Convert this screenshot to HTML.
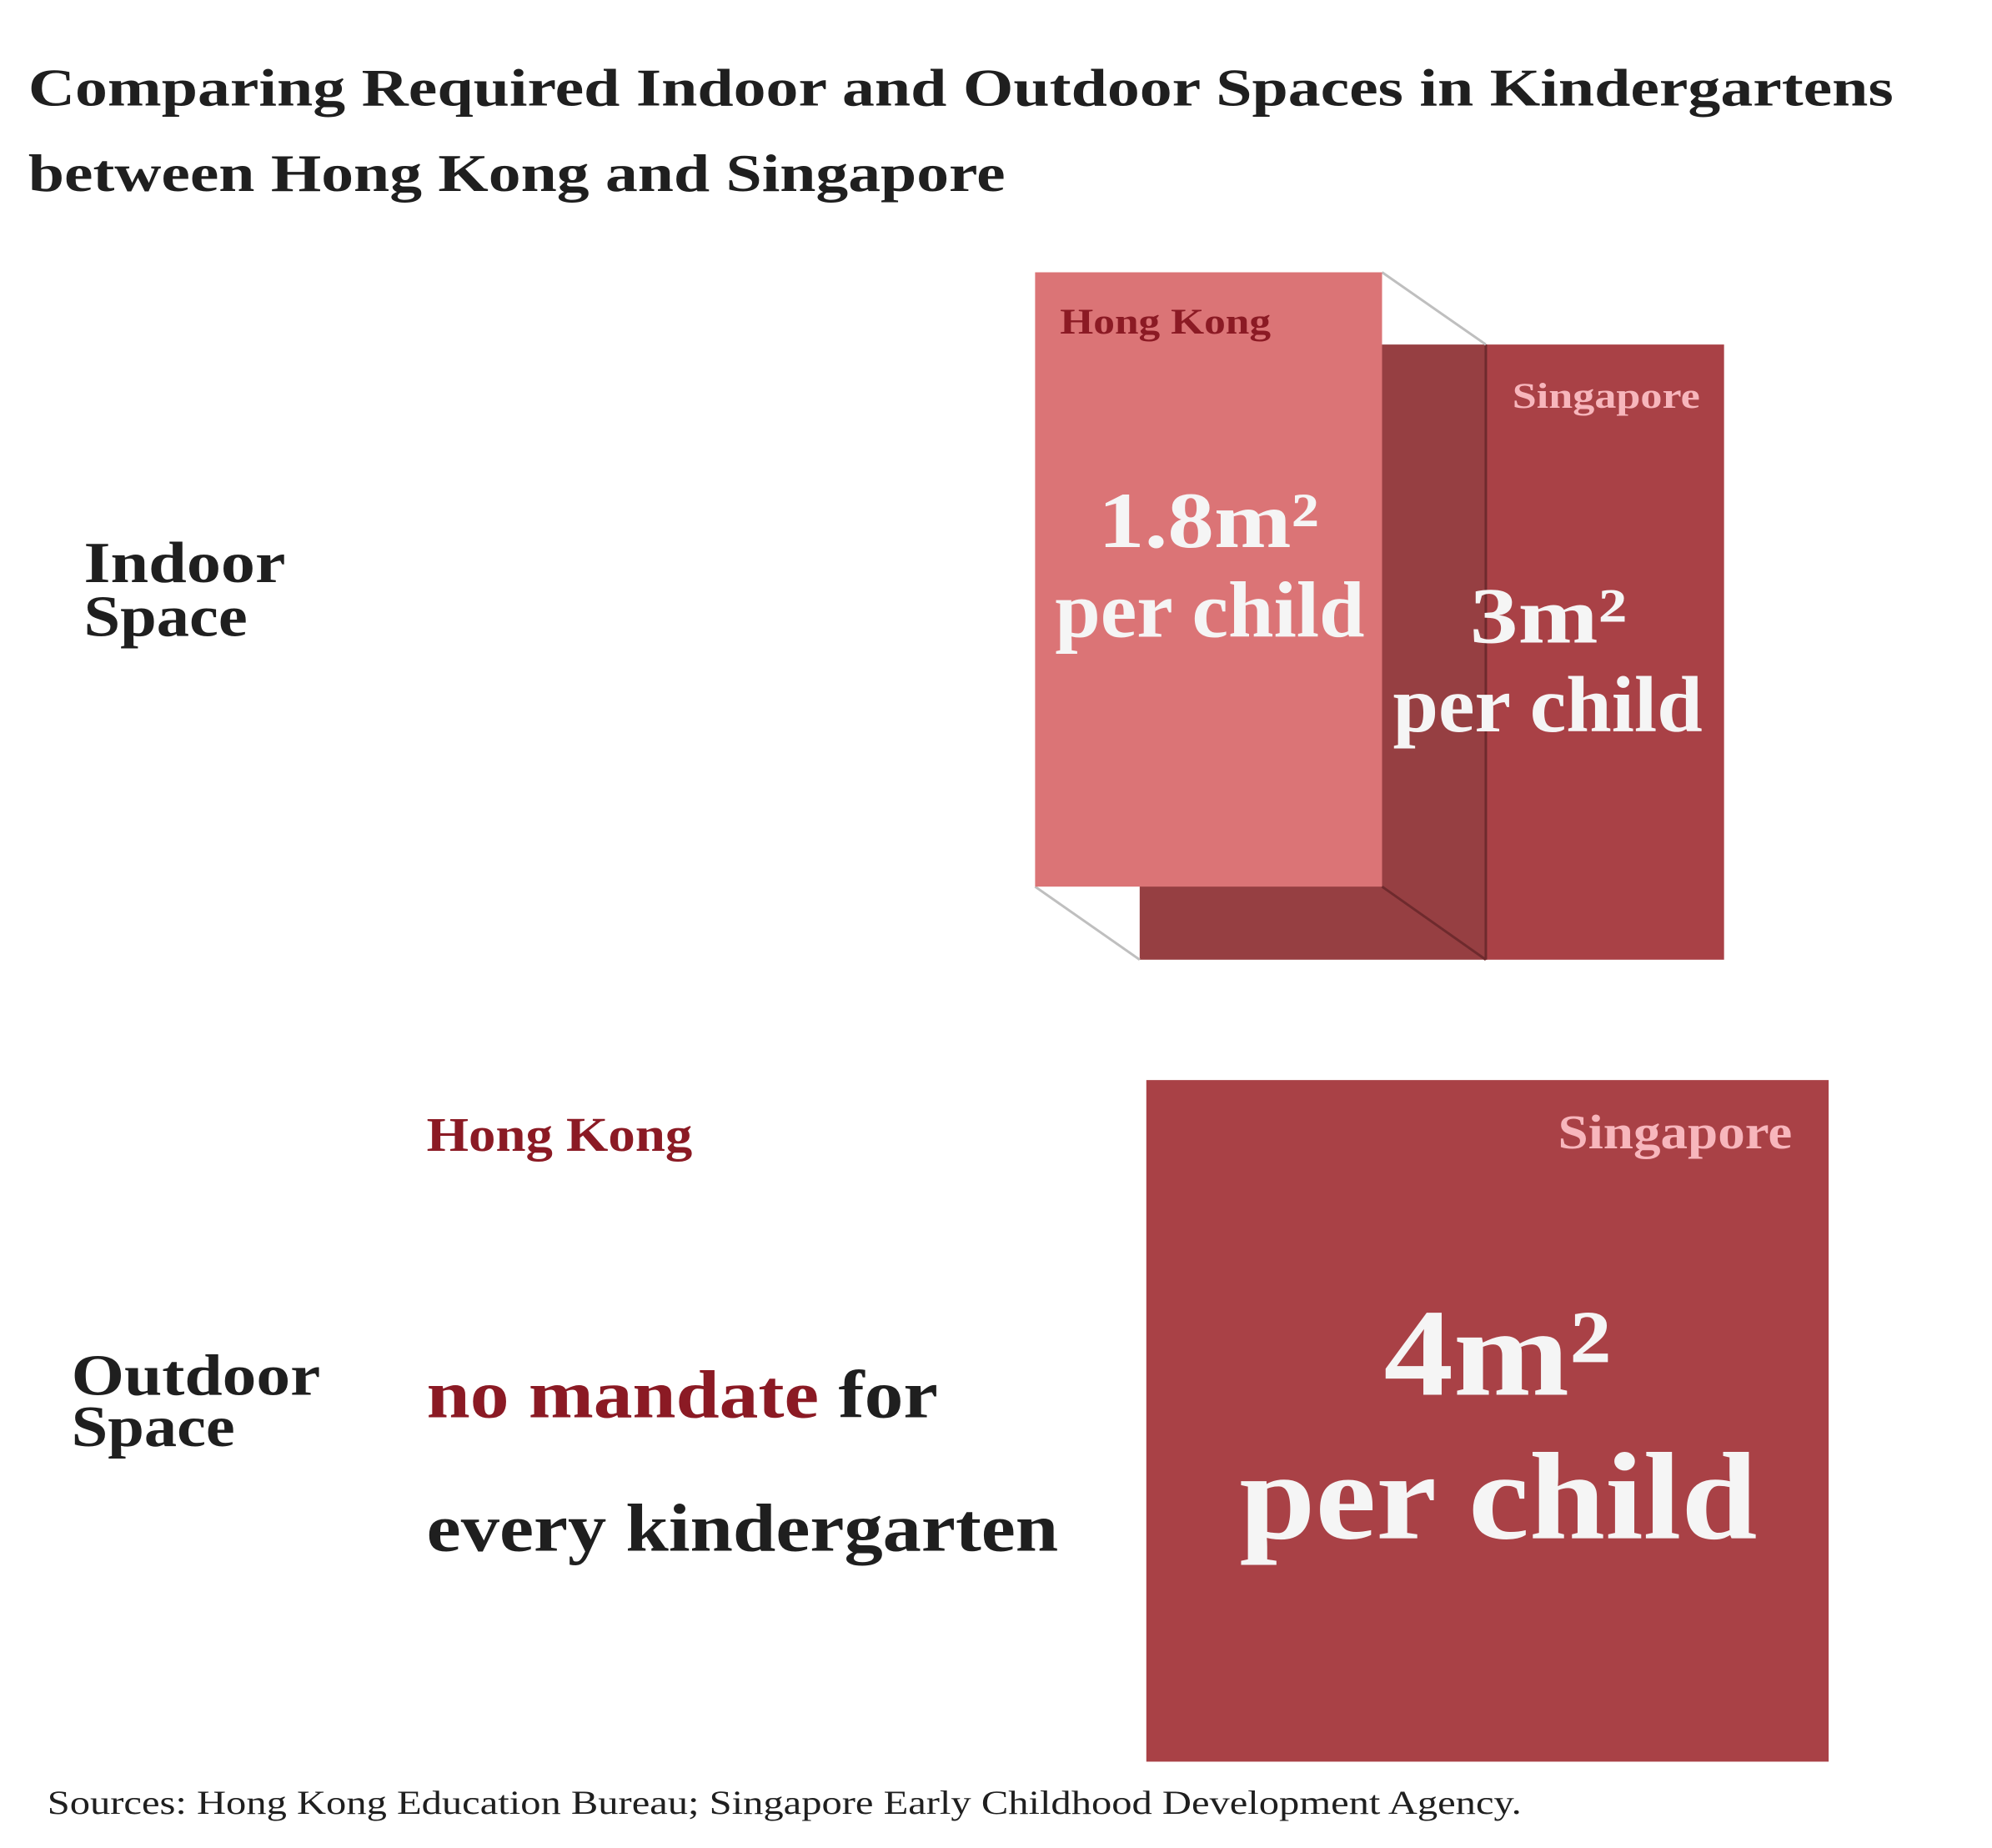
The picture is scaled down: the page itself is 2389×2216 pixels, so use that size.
<!DOCTYPE html>
<html><head><meta charset="utf-8"><style>
html,body{margin:0;padding:0;background:#fff;}
svg{display:block;font-family:"Liberation Serif",serif;font-weight:bold;}
</style></head><body>
<svg width="2389" height="2216" viewBox="0 0 2389 2216">
<g transform="scale(0.9955)">
<g fill="#1f1f1f">
<text x="34" y="127" font-size="64" textLength="2247" lengthAdjust="spacingAndGlyphs">Comparing Required Indoor and Outdoor Spaces in Kindergartens</text>
<text x="34" y="230" font-size="64" textLength="1177" lengthAdjust="spacingAndGlyphs">between Hong Kong and Singapore</text>
</g>
<g fill="#1f1f1f" font-size="70">
<text x="101" y="701" textLength="243" lengthAdjust="spacingAndGlyphs">Indoor</text>
<text x="101" y="766" textLength="197" lengthAdjust="spacingAndGlyphs">Space</text>
<text x="86" y="1680" textLength="300" lengthAdjust="spacingAndGlyphs">Outdoor</text>
<text x="86" y="1742" textLength="197" lengthAdjust="spacingAndGlyphs">Space</text>
</g>
<g transform="translate(3,1)">
<rect x="1370" y="414" width="418" height="741" fill="#963f42"/>
<rect x="1787" y="414" width="287" height="741" fill="#a94146"/>
<line x1="1787" y1="414" x2="1787" y2="1155" stroke="#6e2a2d" stroke-width="3"/>
<line x1="1662" y1="1067" x2="1787" y2="1155" stroke="#6e2a2d" stroke-width="3"/>
<line x1="1662" y1="327" x2="1787" y2="414" stroke="#bfbfbf" stroke-width="3"/>
<line x1="1244" y1="1067" x2="1370" y2="1155" stroke="#bfbfbf" stroke-width="3"/>
<rect x="1244" y="327" width="418" height="740" fill="#db7476"/>
<text x="1274" y="401" font-size="44" fill="#8b1a24" textLength="254" lengthAdjust="spacingAndGlyphs">Hong Kong</text>
<text x="1819" y="490" font-size="44" fill="#f7b6bc" textLength="226" lengthAdjust="spacingAndGlyphs">Singapore</text>
<text x="1320" y="658" font-size="96" fill="#f5f5f5" textLength="266" lengthAdjust="spacingAndGlyphs">1.8m²</text>
<text x="1268" y="766" font-size="96" fill="#f5f5f5" textLength="373" lengthAdjust="spacingAndGlyphs">per child</text>
<text x="1768" y="773" font-size="96" fill="#f5f5f5" textLength="189" lengthAdjust="spacingAndGlyphs">3m²</text>
<text x="1675" y="880" font-size="96" fill="#f5f5f5" textLength="373" lengthAdjust="spacingAndGlyphs">per child</text>
</g>
<g>
<rect x="1381" y="1301" width="822" height="821" fill="#a94146"/>
<text x="514" y="1386" font-size="58" fill="#8b1a24" textLength="320" lengthAdjust="spacingAndGlyphs">Hong Kong</text>
<text x="1877" y="1383" font-size="58" fill="#f7b6bc" textLength="282" lengthAdjust="spacingAndGlyphs">Singapore</text>
<text x="514" y="1707" font-size="82" fill="#1f1f1f" textLength="616" lengthAdjust="spacingAndGlyphs"><tspan fill="#8b1a24">no mandate</tspan> for</text>
<text x="514" y="1868" font-size="82" fill="#1f1f1f" textLength="761" lengthAdjust="spacingAndGlyphs">every kindergarten</text>
<text x="1667" y="1680" font-size="150" fill="#f5f5f5" textLength="274" lengthAdjust="spacingAndGlyphs">4m²</text>
<text x="1493" y="1853" font-size="150" fill="#f5f5f5" textLength="624" lengthAdjust="spacingAndGlyphs">per child</text>
</g>
<text x="57" y="2185" font-size="40" font-weight="normal" fill="#1f1f1f" textLength="1776" lengthAdjust="spacingAndGlyphs">Sources: Hong Kong Education Bureau; Singapore Early Childhood Development Agency.</text>
</g>
</svg>
</body></html>
